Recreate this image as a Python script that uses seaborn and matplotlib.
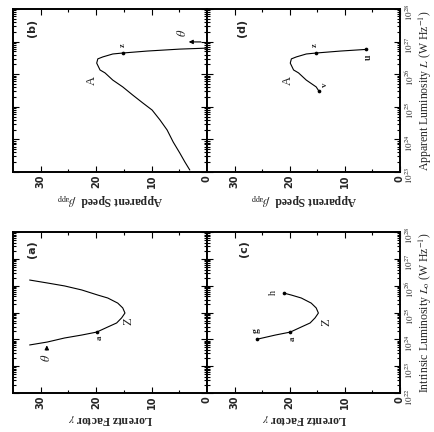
import numpy as np
import pandas as pd
import matplotlib
matplotlib.use("Agg")
import matplotlib.pyplot as plt
import seaborn as sns
from matplotlib.ticker import FixedLocator, LogLocator, NullFormatter, FuncFormatter

# ---------------- data ----------------
# panel (b): apparent speed vs apparent luminosity (log10 W/Hz), ordered along theta
b_logL = [23.06, 23.31, 23.58, 23.92, 24.29, 24.60, 24.90, 25.12, 25.36, 25.61, 25.82, 26.04,
          26.13, 26.34, 26.47, 26.53, 26.62, 26.65, 26.71, 26.77, 26.80]
b_speed = [3.1, 4.0, 4.9, 6.1, 7.2, 8.5, 9.9, 11.6, 13.4, 15.2, 17.0, 18.4,
           19.3, 19.9, 19.7, 18.8, 17.0, 15.2, 10.8, 4.9, 0.0]
b_pt_names = ["z"]
b_pt_logL = [26.65]
b_pt_speed = [15.2]

# panel (d): part of the (b) track between v and u
d_logL = [25.48, 25.61, 25.82, 26.04, 26.13, 26.34, 26.47, 26.53, 26.62, 26.65, 26.71, 26.76]
d_speed = [14.7, 15.2, 17.0, 18.4, 19.3, 19.9, 19.7, 18.8, 17.0, 15.2, 10.8, 6.2]
d_pt_names = ["v", "z", "u"]
d_pt_logL = [25.48, 26.65, 26.76]
d_pt_speed = [14.7, 15.2, 6.2]

# panel (a): Lorentz factor vs intrinsic luminosity
a_logL = [23.79, 23.90, 24.05, 24.16, 24.27, 24.46, 24.61, 24.80, 24.98, 25.17, 25.35,
          25.54, 25.65, 25.84, 25.99, 26.10, 26.21]
a_gamma = [32.0, 28.8, 25.7, 22.6, 19.9, 17.9, 16.3, 15.4, 14.8, 15.2, 16.1,
           17.9, 19.7, 22.6, 25.7, 28.8, 32.0]
a_pt_names = ["a"]
a_pt_logL = [24.27]
a_pt_gamma = [19.9]

# panel (c): part of the (a) track between g and h
c_logL = [24.0, 24.16, 24.27, 24.46, 24.61, 24.80, 24.98, 25.17, 25.35, 25.54, 25.65, 25.72]
c_gamma = [26.0, 22.6, 19.9, 17.9, 16.3, 15.4, 14.8, 15.2, 16.1, 17.9, 19.7, 21.0]
c_pt_names = ["g", "a", "h"]
c_pt_logL = [24.0, 24.27, 25.72]
c_pt_gamma = [26.0, 19.9, 21.0]

speed_ticks = [0, 10, 20, 30]
speed_minor = [5, 15, 25]

# ---------------- style ----------------
sns.set_style("ticks")
plt.rcParams['font.family'] = ['DejaVu Sans']
plt.rcParams['mathtext.fontset'] = 'stix'
plt.rcParams['axes.edgecolor'] = 'black'

W, H = 435, 432
fig = plt.figure(figsize=(W / 100, H / 100), dpi=100)
fig.patch.set_facecolor('white')


def add(x0, y0, x1, y1):
    return fig.add_axes([x0 / W, 1 - y1 / H, (x1 - x0) / W, (y1 - y0) / H])


ax_b = add(13, 9, 207, 172)
ax_d = add(207, 9, 400, 172)
ax_a = add(13, 232, 207, 393)
ax_c = add(207, 232, 400, 393)

serif = 'Liberation Serif'


def setup(ax, ylo, yhi, right_labels):
    ax.set_yscale('log')
    ax.set_xlim(35, 0)
    ax.set_ylim(10.0 ** ylo, 10.0 ** yhi)
    for s in ax.spines.values():
        s.set_linewidth(1.4)
        s.set_color('black')
    ax.xaxis.set_major_locator(FixedLocator(speed_ticks))
    ax.xaxis.set_minor_locator(FixedLocator(speed_minor))
    ax.yaxis.set_major_locator(LogLocator(base=10, numticks=20))
    ax.yaxis.set_minor_locator(LogLocator(base=10, subs=np.arange(2, 10), numticks=20))
    ax.yaxis.set_minor_formatter(NullFormatter())
    ax.yaxis.set_major_formatter(FuncFormatter(lambda v, p: r'$10^{%d}$' % int(round(np.log10(v)))))
    ax.tick_params(which='both', direction='in', top=True, bottom=True, left=True, right=True,
                   width=0.8, color='black')
    ax.tick_params(which='major', length=4)
    ax.tick_params(which='minor', length=2.2)
    ax.tick_params(axis='x', labelbottom=True, labeltop=False, labelrotation=90, labelsize=7, pad=2)
    ax.tick_params(axis='y', labelleft=False, labelright=right_labels, labelrotation=90,
                   labelsize=6.5, pad=2.5)


def draw(ax, xs, logs, px, plog):
    df = pd.DataFrame({'x': xs, 'L': [10.0 ** v for v in logs]})
    sns.lineplot(data=df, x='x', y='L', sort=False, estimator=None, color='black', lw=0.8, ax=ax)
    dp = pd.DataFrame({'x': px, 'L': [10.0 ** v for v in plog]})
    sns.scatterplot(data=dp, x='x', y='L', color='black', s=7, linewidth=0, ax=ax, zorder=5)


def txt(ax, x, lg, s, size=8, **kw):
    ax.text(x, 10.0 ** lg, s, rotation=90, ha='center', va='center', fontsize=size, **kw)


speed_label = r'Apparent Speed  $\beta_{\rm app}$'
gamma_label = r'Lorentz Factor $\gamma$'

setup(ax_b, 23, 28, False)
setup(ax_d, 23, 28, True)
setup(ax_a, 22, 28, False)
setup(ax_c, 22, 28, True)

draw(ax_b, b_speed, b_logL, b_pt_speed, b_pt_logL)
draw(ax_d, d_speed, d_logL, d_pt_speed, d_pt_logL)
draw(ax_a, a_gamma, a_logL, a_pt_gamma, a_pt_logL)
draw(ax_c, c_gamma, c_logL, c_pt_gamma, c_pt_logL)

for ax, lab in [(ax_b, speed_label), (ax_d, speed_label), (ax_a, gamma_label), (ax_c, gamma_label)]:
    ax.set_xlabel(lab, rotation=180, fontsize=8.5, fontweight='bold', fontfamily=serif, labelpad=2)
    ax.set_ylabel('')
    for t in ax.get_xticklabels():
        t.set_fontweight('bold')
    for t in ax.get_yticklabels():
        t.set_fontfamily(serif)

ax_d.yaxis.set_label_position('right')
ax_d.set_ylabel(r'Apparent Luminosity $L$ (W Hz$^{-1}$)', rotation=90, fontsize=8.5,
                fontfamily=serif, labelpad=1)
ax_c.yaxis.set_label_position('right')
ax_c.set_ylabel(r'Intrinsic Luminosity $L_{\rm o}$ (W Hz$^{-1}$)', rotation=90, fontsize=8.5,
                fontfamily=serif, labelpad=1)

# annotations
txt(ax_b, 31.5, 27.42, '(b)', 8, fontweight='bold')
txt(ax_b, 20.8, 25.82, 'A', 9, fontfamily=serif)
txt(ax_b, 15.2, 26.9, 'z', 6, fontfamily=serif, fontweight='bold')
txt(ax_b, 4.5, 27.26, r'$\theta$', 9)
ax_b.annotate('', xy=(3.8, 10.0 ** 26.99), xytext=(0.6, 10.0 ** 26.99),
              arrowprops=dict(arrowstyle='-|>', color='black', lw=0.8, mutation_scale=6))

txt(ax_d, 28.7, 27.42, '(d)', 8, fontweight='bold')
txt(ax_d, 20.4, 25.82, 'A', 9, fontfamily=serif)
txt(ax_d, 13.6, 25.67, 'v', 6.5, fontfamily=serif, fontweight='bold')
txt(ax_d, 15.5, 26.9, 'z', 6, fontfamily=serif, fontweight='bold')
txt(ax_d, 5.8, 26.53, 'u', 7, fontfamily=serif, fontweight='bold')

txt(ax_a, 31.5, 27.37, '(a)', 8, fontweight='bold')
txt(ax_a, 14.2, 24.68, 'Z', 9, fontfamily=serif)
txt(ax_a, 19.4, 24.05, 'a', 6.5, fontfamily=serif, fontweight='bold')
txt(ax_a, 28.9, 23.3, r'$\theta$', 9)
ax_a.annotate('', xy=(28.9, 10.0 ** 23.88), xytext=(28.9, 10.0 ** 23.5),
              arrowprops=dict(arrowstyle='-|>', color='black', lw=0.8, mutation_scale=6))

txt(ax_c, 28.2, 27.37, '(c)', 8, fontweight='bold')
txt(ax_c, 23.0, 25.75, 'h', 7.5, fontfamily=serif)
txt(ax_c, 26.0, 24.31, 'g', 7, fontfamily=serif, fontweight='bold')
txt(ax_c, 19.4, 24.01, 'a', 6.5, fontfamily=serif, fontweight='bold')
txt(ax_c, 13.3, 24.64, 'Z', 9, fontfamily=serif)

fig.savefig('out.png', dpi=100, facecolor='white')
